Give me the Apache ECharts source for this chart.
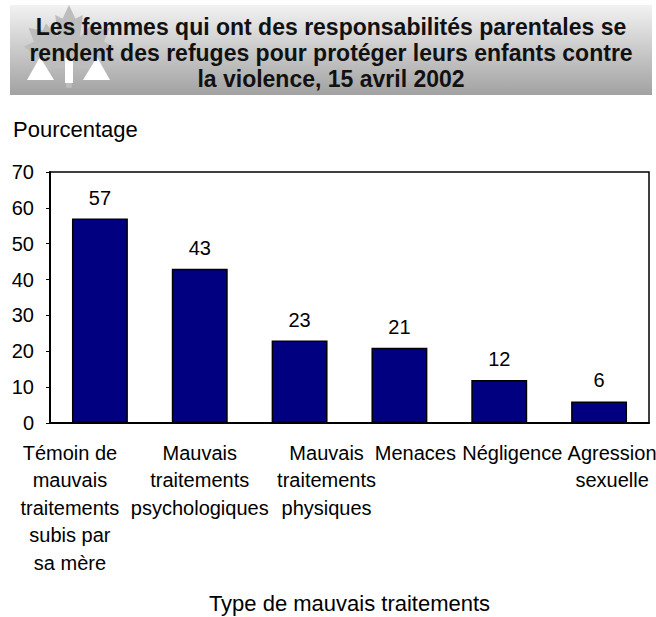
<!DOCTYPE html>
<html>
<head>
<meta charset="utf-8">
<script src="https://cdn.jsdelivr.net/npm/echarts@6/dist/echarts.min.js"></script>
<style>
  html, body { margin: 0; padding: 0; background: #fff; }
  #chart { width: 656px; height: 617px; }
</style>
</head>
<body>
<div id="chart"></div>
<script>
// categories (x axis) and percentages
var categories = [
  'Témoin de\nmauvais\ntraitements\nsubis par\nsa mère',
  'Mauvais\ntraitements\npsychologiques',
  'Mauvais\ntraitements\nphysiques',
  'Menaces',
  'Négligence',
  'Agression\nsexuelle'
]
var percentages = [57, 43, 23, 21, 12, 6]
var yTicks = { min: 0, max: 70, interval: 10 }

// the original labels are not quite centred under their bars
var labelShift = [-30, 0, 27, 16, 13, 13]

var titleText = 'Les femmes qui ont des responsabilités parentales se\n' +
  'rendent des refuges pour protéger leurs enfants contre\n' +
  'la violence, 15 avril 2002'

// rough maple leaf outline (unit coords), mirrored for the left half
var leafHalf = [
  [0, -1], [0.14, -0.7], [0.3, -0.78], [0.24, -0.3], [0.5, -0.6], [0.57, -0.45],
  [0.88, -0.5], [0.76, -0.2], [0.98, -0.1], [0.56, 0.26], [0.63, 0.42],
  [0.07, 0.34], [0.06, 0.8]
]
function leafPoints(cx, cy, r) {
  var right = leafHalf.map(function (p) { return [cx + p[0] * r, cy + p[1] * r] })
  var left = leafHalf.slice().reverse().map(function (p) { return [cx - p[0] * r, cy + p[1] * r] })
  return right.concat(left)
}

var chart = echarts.init(document.getElementById('chart'), null, { renderer: 'svg' })

chart.setOption({
  animation: false,
  textStyle: { fontFamily: 'Liberation Sans, Arial, sans-serif', color: '#000' },
  graphic: [
    {
      type: 'rect',
      z: -10,
      shape: { x: 10, y: 5, width: 642, height: 90 },
      style: {
        fill: new echarts.graphic.LinearGradient(0, 0, 0, 1, [
          { offset: 0, color: '#f2f2f2' },
          { offset: 1, color: '#a2a2a2' }
        ])
      }
    },
    {
      type: 'polygon',
      z: -9,
      shape: { points: leafPoints(69, 51, 46) },
      style: { fill: '#bdbdbd' }
    },
    {
      type: 'polygon',
      z: -8,
      shape: { points: [[40, 57], [54, 80], [27, 80]] },
      style: { fill: '#fff' }
    },
    {
      type: 'polygon',
      z: -8,
      shape: { points: [[97, 57], [110, 80], [83, 80]] },
      style: { fill: '#fff' }
    },
    {
      type: 'rect',
      z: -8,
      shape: { x: 65, y: 58, width: 8, height: 25 },
      style: { fill: '#fff' }
    }
  ],
  title: [
    {
      text: titleText,
      left: 331,
      top: 14,
      padding: 0,
      textAlign: 'center',
      textStyle: { fontSize: 23, fontWeight: 'bold', lineHeight: 26, color: '#111' }
    },
    {
      text: 'Pourcentage',
      left: 13,
      top: 118,
      padding: 0,
      textStyle: { fontSize: 22, fontWeight: 'normal', color: '#000' }
    }
  ],
  grid: {
    left: 50,
    right: 7,
    top: 172,
    bottom: 194,
    outerBoundsMode: 'none',
    show: true,
    borderColor: '#000',
    borderWidth: 1.5
  },
  xAxis: {
    type: 'category',
    data: categories.map(function (c, i) {
      var s = labelShift[i]
      return {
        value: c,
        textStyle: { padding: s < 0 ? [0, -2 * s, 0, 0] : [0, 0, 0, 2 * s] }
      }
    }),
    name: 'Type de mauvais traitements',
    nameLocation: 'middle',
    nameGap: 169,
    nameTextStyle: { fontSize: 22, color: '#000' },
    axisLine: { lineStyle: { color: '#000', width: 2 } },
    axisTick: { show: false },
    axisLabel: {
      interval: 0,
      fontSize: 20,
      lineHeight: 27.5,
      margin: 16,
      color: '#000'
    }
  },
  yAxis: {
    type: 'value',
    min: yTicks.min,
    max: yTicks.max,
    interval: yTicks.interval,
    axisLine: { show: true, lineStyle: { color: '#000', width: 2 } },
    axisTick: { show: true, length: 4, lineStyle: { color: '#000' } },
    splitLine: { show: false },
    axisLabel: { fontSize: 20, margin: 16, color: '#000' }
  },
  series: [
    {
      type: 'bar',
      data: percentages,
      barWidth: '56%',
      itemStyle: { color: '#000080', borderColor: '#000', borderWidth: 1.5 },
      label: {
        show: true,
        position: 'top',
        distance: 11,
        fontSize: 20,
        color: '#000'
      }
    }
  ]
})
</script>
</body>
</html>
